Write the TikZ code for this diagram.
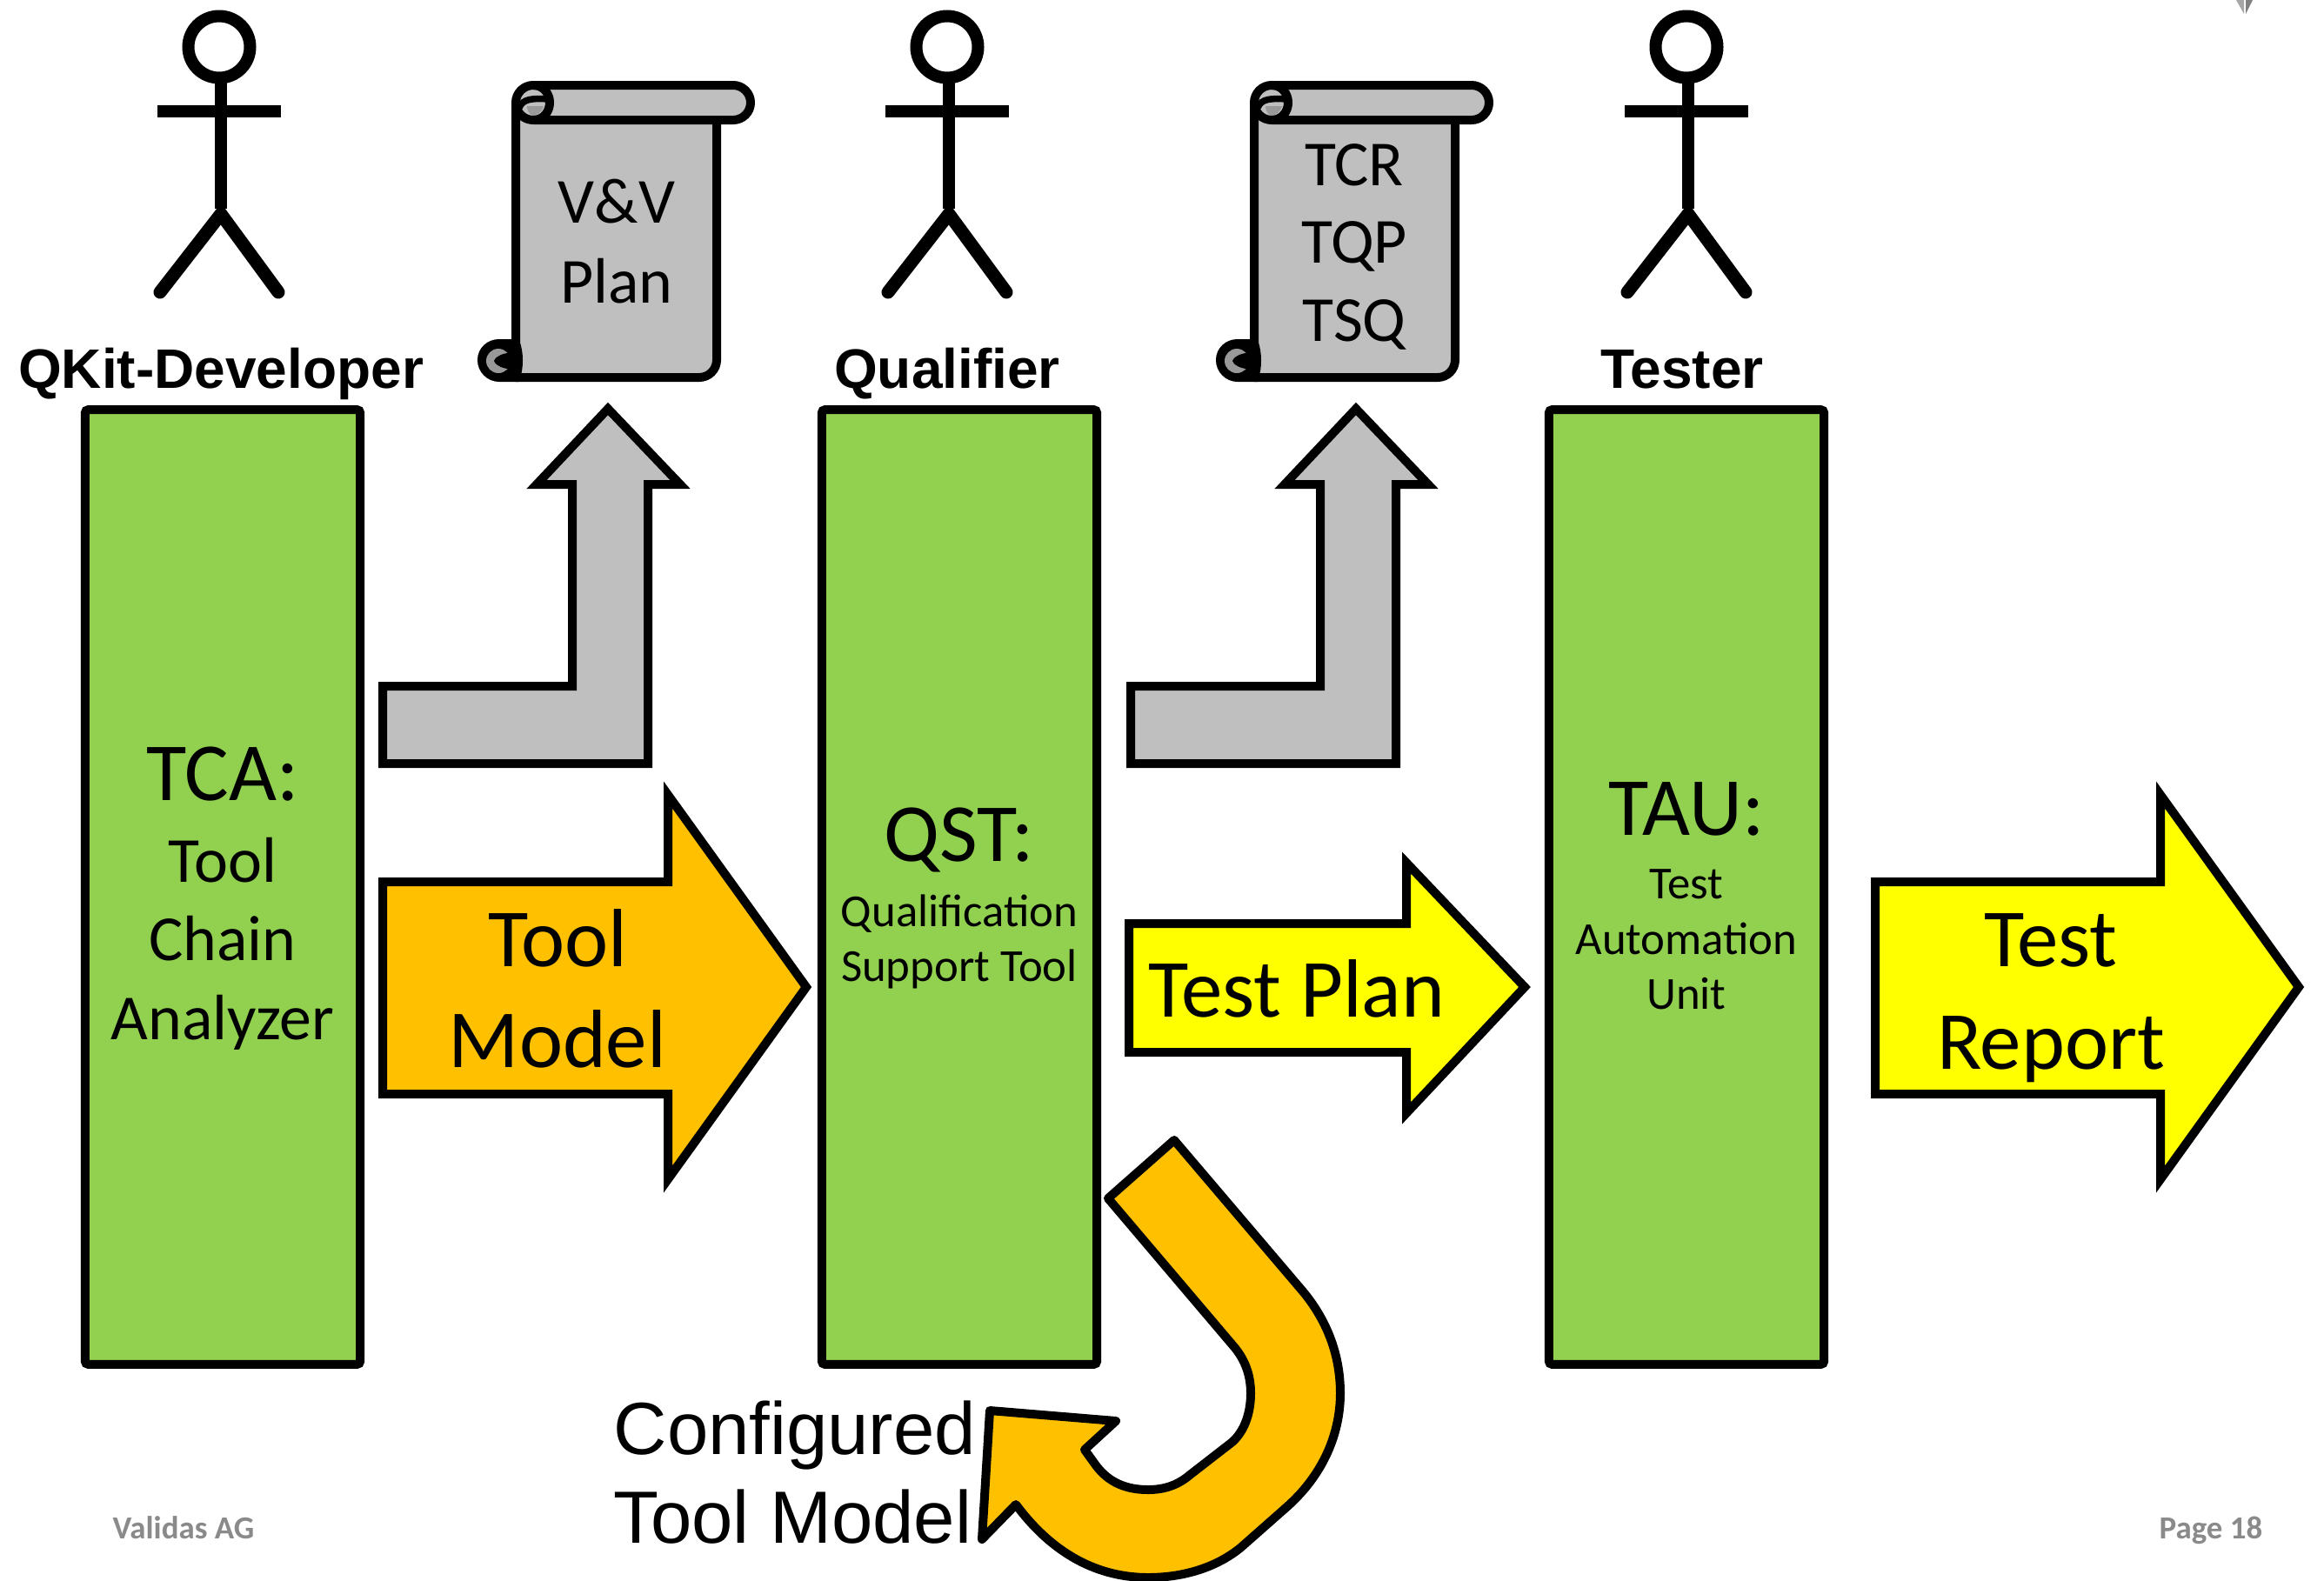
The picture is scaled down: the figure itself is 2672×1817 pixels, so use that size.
\documentclass[tikz,border=0pt]{standalone}
\usepackage{fontspec}
\setmainfont{Carlito}
\newfontfamily\labelfont{Liberation Sans}
\definecolor{boxgreen}{HTML}{92D050}
\definecolor{modelorange}{HTML}{FFC000}
\definecolor{planyellow}{HTML}{FFFF00}
\definecolor{docgray}{HTML}{BFBFBF}
\definecolor{curlgray}{HTML}{999999}
\definecolor{footgray}{HTML}{8A8A8A}
\tikzset{
  thick line/.style={line width=1mm,draw=black},
  greenbox/.style={thick line,fill=boxgreen,minimum width=3.16cm,minimum height=10.97cm,inner sep=0pt,rounded corners=1pt},
  blockarrow/.style={thick line,miter limit=10},
  stick/.style={line width=1.4mm,draw=black},
  stickleg/.style={line width=1.5mm,draw=black,line cap=round,miter limit=10},
  rolename/.style={font=\labelfont\bfseries\fontsize{18.2}{18.2}\selectfont,inner sep=0pt,text height=13pt,text depth=0pt},
  bigtext/.style={font=\fontsize{27}{27}\selectfont,inner sep=0pt,text height=18pt,text depth=0pt},
  midtext/.style={font=\fontsize{21}{21}\selectfont,inner sep=0pt,text height=14pt,text depth=0pt},
  smalltext/.style={font=\fontsize{15}{15}\selectfont,inner sep=0pt,text height=10pt,text depth=0pt},
  configtext/.style={font=\labelfont\fontsize{24.2}{24.2}\selectfont,inner sep=0pt,anchor=west,text height=17pt,text depth=0pt},
  foottext/.style={font=\bfseries\fontsize{10.5}{10.5}\selectfont,text=footgray,inner sep=0pt,text height=7pt,text depth=0pt},
  vscroll/.pic={
    \draw[thick line,fill=docgray,line join=round] (0,20) -- (0,336) -- (211,336) .. controls (222,336) and (231,327) .. (231,316) -- (231,40) -- cycle;
    \draw[thick line,fill=black] (0,297) -- (-19,297) .. controls (-30,297) and (-39,305) .. (-39,316) .. controls (-39,327) and (-30,336) .. (-19,336) -- (0,336) .. controls (4,325) and (4,308) .. (0,297) -- cycle;
    \fill[curlgray] (-20,317) circle[radius=14];
    \fill[black] (-6,307) .. controls (-14,309) and (-22,310) .. (-25,317) .. controls (-22,324) and (-14,325) .. (-6,327) -- cycle;
    \draw[thick line,fill=docgray,line join=round] (20,0) -- (250,0) .. controls (261,0) and (270,9) .. (270,20) .. controls (270,31) and (261,40) .. (250,40) -- (20,40) .. controls (9,40) and (0,31) .. (0,20) .. controls (0,9) and (9,0) .. (20,0) -- cycle;
    \fill[curlgray] (13,24) -- (32,24) .. controls (30,31) and (24,35) .. (19,35) .. controls (15,33) and (13,28) .. (13,24) -- cycle;
    \draw[thick line] (20,0) .. controls (32,0) and (39,10) .. (39,20) .. controls (39,30) and (32,40) .. (20,40);
    \draw[line width=0.75mm] (4,26) .. controls (8,15) and (20,15) .. (38,16);
  }
}
\begin{document}
\begin{tikzpicture}[x=0.01cm,y=-0.01cm]
\useasboundingbox (0,0) rectangle (2672,1817);

% actors
\draw[stick] (252,54) circle[radius=35.5];
\draw[stick] (254,90) -- (254,240) (181,128) -- (323,128);
\draw[stickleg] (184,336) -- (254,246) -- (320,336);
\draw[stick] (1089,54) circle[radius=35.5];
\draw[stick] (1091,90) -- (1091,240) (1018,128) -- (1160,128);
\draw[stickleg] (1021,336) -- (1091,246) -- (1157,336);
\draw[stick] (1939,54) circle[radius=35.5];
\draw[stick] (1941,90) -- (1941,240) (1868,128) -- (2010,128);
\draw[stickleg] (1871,336) -- (1941,246) -- (2007,336);

\node[rolename] (r1) at (254,424) {QKit-Developer};
\node[rolename] (r2) at (1089,424) {Qualifier};
\node[rolename] (r3) at (1934,424) {Tester};

% documents
\pic at (593,98) {vscroll};
\pic at (1442,98) {vscroll};
\node[midtext] (v1) at (709,232) {V\&V};
\node[midtext] (v2) at (709,324) {Plan};
\node[midtext] (t1) at (1557,189) {TCR};
\node[midtext] (t2) at (1557,278) {TQP};
\node[midtext] (t3) at (1557,368) {TSQ};

% tools
\node[greenbox] (tca) at (256,1020) {};
\node[greenbox] (qst) at (1103,1020) {};
\node[greenbox] (tau) at (1939,1020) {};

\node[bigtext] (a0) at (256,889) {TCA:};
\node[midtext] (a1) at (256,990) {Tool};
\node[midtext] (a2) at (256,1080) {Chain};
\node[midtext] (a3) at (256,1171) {Analyzer};

\node[bigtext] (b0) at (1103,959) {QST:};
\node[smalltext] (b1) at (1103,1048) {Qualification};
\node[smalltext] (b2) at (1103,1111) {Support Tool};

\node[bigtext] (c0) at (1939,929) {TAU:};
\node[smalltext] (c1) at (1939,1016) {Test};
\node[smalltext] (c2) at (1939,1080) {Automation};
\node[smalltext] (c3) at (1939,1143) {Unit};

% bent arrows
\draw[blockarrow,fill=docgray] (440,789) -- (658,789) -- (658,557) -- (617,557) -- (699,470) -- (782,557) -- (745,557) -- (745,878) -- (440,878) -- cycle;
\draw[blockarrow,fill=docgray] (1300,789) -- (1518,789) -- (1518,557) -- (1477,557) -- (1559,470) -- (1642,557) -- (1605,557) -- (1605,878) -- (1300,878) -- cycle;

% straight arrows
\draw[blockarrow,fill=modelorange] (440,1014) -- (768,1014) -- (768,914) -- (927,1135) -- (768,1356) -- (768,1258) -- (440,1258) -- cycle;
\draw[blockarrow,fill=planyellow] (1298,1062) -- (1617,1062) -- (1617,992) -- (1753,1135) -- (1617,1280) -- (1617,1210) -- (1298,1210) -- cycle;
\draw[blockarrow,fill=planyellow] (2156,1014) -- (2484,1014) -- (2484,914) -- (2643,1135) -- (2484,1356) -- (2484,1258) -- (2156,1258) -- cycle;

\node[bigtext] (m1) at (641,1080) {Tool};
\node[bigtext] (m2) at (641,1196) {Model};
\node[bigtext] (p1) at (1491,1138) {Test Plan};
\node[bigtext] (e1) at (2358,1080) {Test};
\node[bigtext] (e2) at (2358,1198) {Report};

% turn arrow
\draw[thick line,fill=modelorange,line join=round] (1274,1378) -- (1350,1311) -- (1498,1485)
  .. controls (1527,1520) and (1541,1560) .. (1541,1602)
  .. controls (1541,1650) and (1520,1698) .. (1477,1735)
  -- (1426,1780) .. controls (1396,1804) and (1358,1814) .. (1320,1814)
  .. controls (1255,1814) and (1205,1780) .. (1168,1730)
  -- (1129,1770) -- (1138,1622) -- (1283,1634) -- (1247,1667)
  -- (1260,1685) .. controls (1275,1705) and (1295,1713) .. (1320,1713)
  .. controls (1340,1713) and (1355,1707) .. (1368,1696)
  -- (1417,1658) .. controls (1431,1645) and (1438,1625) .. (1438,1602)
  .. controls (1438,1582) and (1432,1565) .. (1420,1550) -- cycle;

\node[configtext] (k1) at (705,1643) {Configured};
\node[configtext] (k2) at (705,1745) {Tool Model};

% page furniture
\fill[gray!70] (2571,0) -- (2580,16) -- (2580,0) -- cycle;
\fill[gray] (2590,0) -- (2582,16) -- (2582,0) -- cycle;
\node[foottext] (f1) at (211,1757) {Validas AG};
\node[foottext] (f2) at (2542,1757) {Page 18};
\end{tikzpicture}
\end{document}
